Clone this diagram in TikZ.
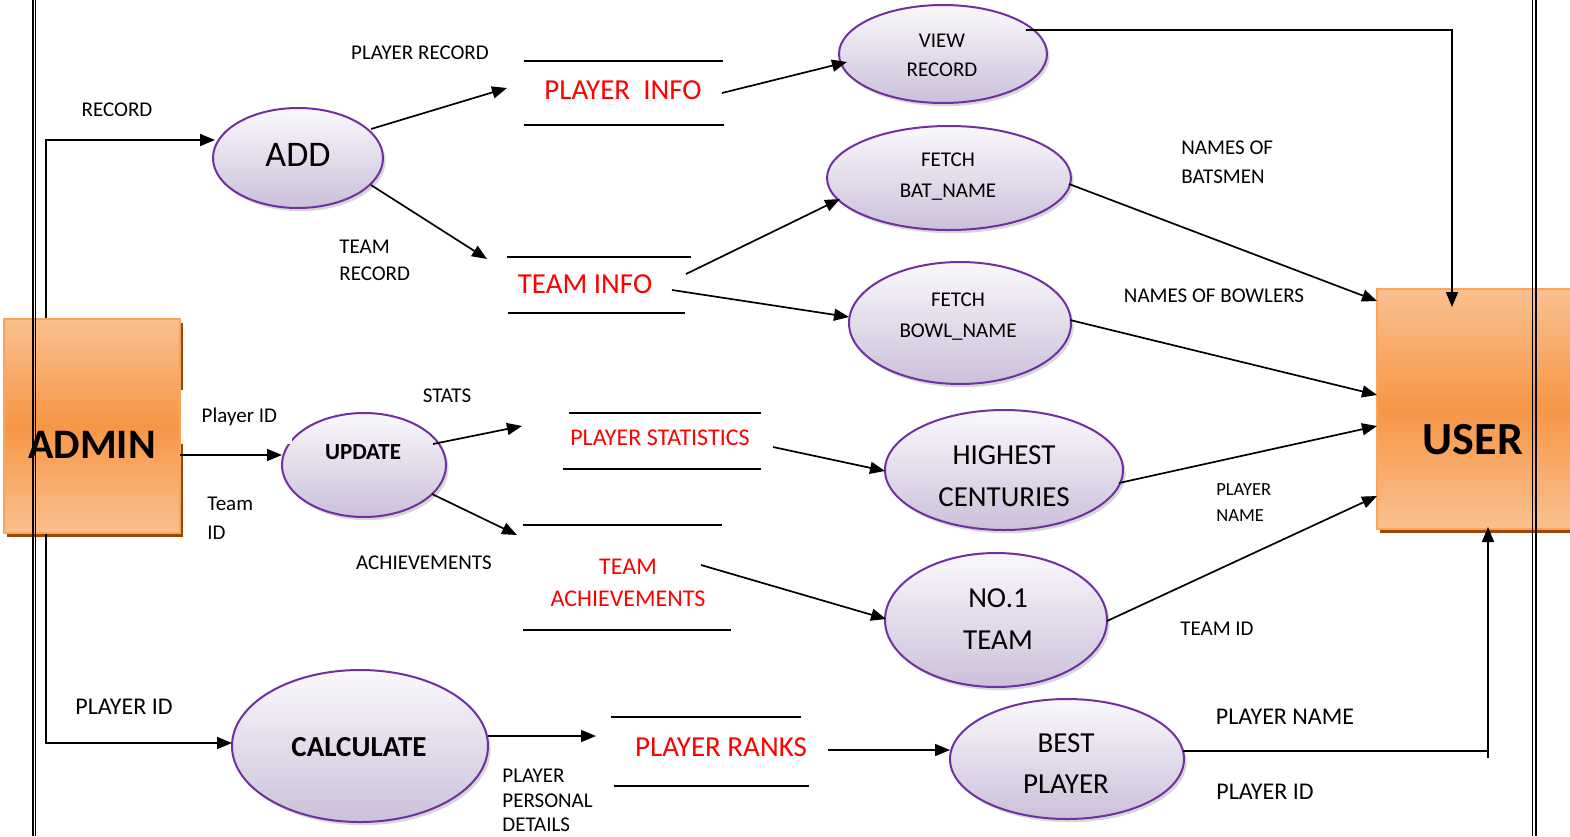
\documentclass[tikz,border=0pt]{standalone}
\usepackage{fontspec}
\setmainfont{Carlito}
\usetikzlibrary{arrows.meta,shapes.geometric,shadows,calc}

\definecolor{procedge}{HTML}{7030A0}
\definecolor{proctop}{HTML}{FAF8FC}
\definecolor{procbot}{HTML}{CCC0DA}
\definecolor{entlight}{HTML}{FAC08F}
\definecolor{entdark}{HTML}{F79646}
\definecolor{entedge}{HTML}{F9A55E}
\definecolor{entshadow}{HTML}{984807}
\definecolor{storered}{HTML}{FF0000}

\newcommand\fsz[2]{\fontsize{#1}{#2}\selectfont}

\tikzset{
  proc/.style={ellipse, draw=procedge, line width=1pt, top color=proctop,
    bottom color=procbot, inner sep=0pt,
    drop shadow={shadow xshift=1.3pt, shadow yshift=-1.6pt, fill=black!35, opacity=0.45}},
  entity/.style={rectangle, draw=entedge, line width=1pt, top color=entlight,
    bottom color=entlight, middle color=entdark, inner sep=0pt,
    drop shadow={shadow xshift=1.6pt, shadow yshift=-2pt, fill=entshadow, opacity=1}},
  flow/.style={line width=0.85pt, -{Triangle[length=7.5pt,width=6pt]}},
  rule/.style={line width=0.75pt},
  frame/.style={line width=0.7pt},
  ptext/.style={inner sep=0pt, align=center},
  storetxt/.style={text=storered, inner sep=0pt, align=center},
  lbl/.style={inner sep=0pt, font=\fsz{10.5}{14}},
  lblbig/.style={inner sep=0pt, font=\fsz{12}{14}},
}

\begin{document}
\begin{tikzpicture}[x=0.5pt, y=-0.5pt]
\useasboundingbox (0,0) rectangle (1570,836);

% external entities
\node[entity, minimum width=88pt, minimum height=107pt] (admin) at (92,426) {};
\node[inner sep=0pt, font=\bfseries\fsz{21}{24}] (admint) at (92,445) {ADMIN};
\node[entity, minimum width=99pt, minimum height=120pt] (user) at (1476,409) {};
\node[inner sep=0pt, font=\bfseries\fsz{23}{26}] (usert) at (1473,440) {USER};

% processes
\node[proc, minimum width=85pt,  minimum height=50pt] (add)   at (298,158) {};
\node[proc, minimum width=104pt, minimum height=49pt] (view)  at (943,54)  {};
\node[proc, minimum width=122pt, minimum height=52pt] (bat)   at (949,178) {};
\node[proc, minimum width=111pt, minimum height=61pt] (bowl)  at (960,323) {};
\node[proc, minimum width=82pt,  minimum height=52pt] (upd)   at (364,465) {};
\node[proc, minimum width=119pt, minimum height=60pt] (high)  at (1004,470) {};
\node[proc, minimum width=111pt, minimum height=67pt] (team1) at (996,620) {};
\node[proc, minimum width=128pt, minimum height=76pt] (calc)  at (360,746) {};
\node[proc, minimum width=117pt, minimum height=60pt] (best)  at (1067,759) {};

\node[ptext, font=\fsz{18}{20}] (addt) at (298,155) {ADD};
\node[ptext, font=\fsz{10.5}{14.5}] (viewt) at (942,55.5) {VIEW\\RECORD};
\node[ptext, font=\fsz{10.5}{15.5}] (batt) at (948,176.5) {FETCH\\BAT\_NAME};
\node[ptext, font=\fsz{10.5}{15.5}] (bowlt) at (958,317) {FETCH\\BOWL\_NAME};
\node[ptext, font=\bfseries\fsz{11.5}{13}] (updt) at (363,452) {UPDATE};
\node[ptext, font=\fsz{14.5}{21}] (hight) at (1004,476) {HIGHEST\\CENTURIES};
\node[ptext, font=\fsz{14.5}{21}] (team1t) at (998,619) {NO.1\\TEAM};
\node[ptext, font=\bfseries\fsz{14.5}{16}] (calct) at (359,747) {CALCULATE};
\node[ptext, font=\fsz{14.5}{20.5}] (bestt) at (1066,763.5) {BEST\\PLAYER};

% data stores
\node[storetxt, font=\fsz{14.5}{16}] (pinfo) at (623,90)  {PLAYER\ \ INFO};
\node[storetxt, font=\fsz{14.5}{16}] (tinfo) at (585,284) {TEAM INFO};
\node[storetxt, font=\fsz{12}{14}]   (pstat) at (660,438) {PLAYER STATISTICS};
\node[storetxt, font=\fsz{12}{16}]   (tach)  at (628,583) {TEAM\\ACHIEVEMENTS};
\node[storetxt, font=\fsz{14.5}{16}] (ranks) at (721,747) {PLAYER RANKS};

\draw[rule] ($(pinfo)+(-99,-29)$) -- ($(pinfo)+(100,-29)$);
\draw[rule] ($(pinfo)+(-99,35)$)  -- ($(pinfo)+(101,35)$);
\draw[rule] ($(tinfo)+(-78,-27)$) -- ($(tinfo)+(106,-27)$);
\draw[rule] ($(tinfo)+(-77,29)$)  -- ($(tinfo)+(100,29)$);
\draw[rule] ($(pstat)+(-91,-25)$) -- ($(pstat)+(101,-25)$);
\draw[rule] ($(pstat)+(-97,31)$)  -- ($(pstat)+(101,31)$);
\draw[rule] ($(tach)+(-105,-58)$) -- ($(tach)+(94,-58)$);
\draw[rule] ($(tach)+(-105,47)$)  -- ($(tach)+(103,47)$);
\draw[rule] ($(ranks)+(-110,-30)$) -- ($(ranks)+(80,-30)$);
\draw[rule] ($(ranks)+(-107,39)$)  -- ($(ranks)+(88,39)$);

% labels
\node[lbl] (l1) at (117,110) {RECORD};
\node[lbl] (l2) at (420,53) {PLAYER RECORD};
\node[lbl, anchor=west, align=left, font=\fsz{10.5}{13.5}] (l3) at (339,260.5) {TEAM\\RECORD};
\node[lbl, anchor=west, align=left, font=\fsz{10.5}{14.5}] (l4) at (1181,162.5) {NAMES OF\\BATSMEN};
\node[lbl] (l5) at (1214,296) {NAMES OF BOWLERS};
\node[lbl, anchor=west, fill=white, minimum width=55.5pt, minimum height=27pt]
  (l6) at (181,417) {\hspace*{2.5pt}Player ID};
\node[lbl, anchor=west, align=left, font=\fsz{10.5}{14.5}] (l7) at (207,518.5) {Team\\ID};
\node[lbl] (l8) at (447,396) {STATS};
\node[lbl] (l9) at (424,563) {ACHIEVEMENTS};
\node[lbl, anchor=west, align=left, font=\fsz{9.25}{13}] (l10) at (1216,503) {PLAYER\\NAME};
\node[lbl] (l11) at (1217,629) {TEAM ID};
\node[lblbig] (l12) at (124,707) {PLAYER ID};
\node[lbl, anchor=west, align=left, font=\fsz{10.5}{12.25}] (l13) at (502,800.5) {PLAYER\\PERSONAL\\DETAILS};
\node[lblbig] (l14) at (1285,717) {PLAYER NAME};
\node[lblbig] (l15) at (1265,792) {PLAYER ID};

% data flows
\draw[flow] ($(admin.north)+(-46,0)$) |- ($(add)+(-83,-18)$);
\draw[flow] ($(add)+(73,-29)$) -- ($(pinfo)+(-116,-2)$);
\draw[flow] ($(pinfo)+(99,3)$) -- ($(view)+(-96,8)$);
\draw[flow] ($(view)+(83,-24)$) -| ($(user)+(-24,-102)$);
\draw[flow] ($(add)+(73,27)$) -- ($(tinfo)+(-98,-25)$);
\draw[flow] ($(tinfo)+(101,-10)$) -- ($(bat)+(-109,21)$);
\draw[flow] ($(tinfo)+(87,6)$) -- ($(bowl)+(-111,-6)$);
\draw[flow] ($(bat)+(120,6)$) -- ($(user)+(-99,-108)$);
\draw[flow] ($(bowl)+(110,-3)$) -- ($(user)+(-99,-14)$);
\draw[flow] ($(admin)+(88,29)$) -- ($(upd)+(-82,-10)$);
\draw[flow] ($(upd)+(69,-21)$) -- ($(pstat)+(-138,-12)$);
\draw[flow] ($(upd)+(68,29)$) -- ($(tach)+(-111,-48)$);
\draw[flow] ($(pstat)+(113,9)$) -- ($(high)+(-119,1)$);
\draw[flow] ($(high)+(115,13)$) -- ($(user)+(-99,17)$);
\draw[flow] ($(tach)+(73,-18)$) -- ($(team1)+(-110,-1)$);
\draw[flow] ($(team1)+(111,1)$) -- ($(user)+(-99,87)$);
\draw[flow] ($(admin.south)+(-46,0)$) |- ($(calc)+(-128,-3)$);
\draw[flow] ($(calc)+(128,-10)$) -- ($(ranks)+(-125,-11)$);
\draw[flow] ($(ranks)+(107,3)$) -- ($(best)+(-117,-9)$);
\draw[flow] ($(best)+(116,-8)$) -| ($(user)+(12,118)$);
\draw[line width=0.85pt] ($(best)+(421,-9)$) -- ($(best)+(421,-1)$);

% page frame rules
\draw[frame] (33,0) -- (33,836);
\draw[frame] (35.2,0) -- (35.2,836);
\draw[frame] (1532.7,0) -- (1532.7,836);
\draw[frame] (1535.8,0) -- (1535.8,836);
\end{tikzpicture}
\end{document}
